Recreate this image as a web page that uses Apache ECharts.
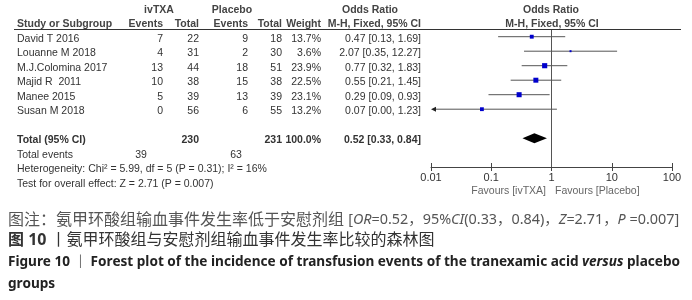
<!DOCTYPE html>
<html>
<head>
<meta charset="utf-8">
<script src="https://cdn.jsdelivr.net/npm/echarts@6/dist/echarts.min.js"></script>
<style>
  html, body { margin: 0; background: #fff; }
  #chart { width: 692px; height: 300px; }
</style>
</head>
<body>
<div id="chart"></div>
<script>
// studies in the forest plot
const studies = ['David T 2016', 'Louanne M 2018', 'M.J.Colomina 2017', 'Majid R  2011', 'Manee 2015', 'Susan M 2018'];
const ivEvents = [7, 4, 13, 10, 5, 0];
const ivTotal = [22, 31, 44, 38, 39, 56];
const plEvents = [9, 2, 18, 15, 13, 6];
const plTotal = [18, 30, 51, 38, 39, 55];
const weights = [13.7, 3.6, 23.9, 22.5, 23.1, 13.2];
const orVals = [0.47, 2.07, 0.77, 0.55, 0.29, 0.07];
const ciLow = [0.13, 0.35, 0.32, 0.21, 0.09, 0.00];
const ciHigh = [1.69, 12.27, 1.83, 1.45, 0.93, 1.23];

// pooled result: OR, low, high
const pooledOR = [0.52, 0.33, 0.84];
const totalN = [230, 231];
const totalEvents = [39, 63];
const xTicks = [0.01, 0.1, 1, 10, 100];

const X_MIN = 0.01, X_MAX = 100;
const Y_MIN = -0.462, Y_MAX = 8.986;
const ROW_TOTAL = 7;

const FONT = "'Liberation Sans', Arial, sans-serif";
const CAP_FONT = "'Noto Sans', 'Noto Sans CJK SC', sans-serif";
const TXT = '#333';
const BLUE = '#0000cc';

const chart = echarts.init(document.getElementById('chart'));

const fmt2 = v => v.toFixed(2);
const orText = (o, l, h) => `${fmt2(o)} [${fmt2(l)}, ${fmt2(h)}]`;

const option = {
  animation: false,
  grid: { left: 431, right: 20, top: 30, bottom: 133 },
  xAxis: [
    {
      type: 'log', logBase: 10, min: X_MIN, max: X_MAX,
      axisLine: { show: true, onZero: false, lineStyle: { color: '#444', width: 1 } },
      axisTick: { show: true, length: 4, lineStyle: { color: '#444' } },
      axisLabel: {
        color: TXT, fontFamily: FONT, fontSize: 11, margin: 5,
        formatter: v => String(xTicks.find(t => Math.abs(Math.log10(t) - Math.log10(v)) < 1e-6) ?? v)
      },
      splitLine: { show: false }
    },
    {
      // second copy just for the upward half of the ticks
      type: 'log', logBase: 10, min: X_MIN, max: X_MAX, position: 'bottom',
      axisLine: { show: false, onZero: false },
      axisTick: { show: true, inside: true, length: 4, lineStyle: { color: '#444' } },
      axisLabel: { show: false },
      splitLine: { show: false }
    }
  ],
  yAxis: { type: 'value', inverse: true, min: Y_MIN, max: Y_MAX, show: false },
  series: [
    {
      // line of no effect, full plot height
      type: 'custom',
      clip: false,
      data: [[1]],
      renderItem: (params, api) => {
        const top = api.coord([api.value(0), Y_MIN]);
        const bot = api.coord([api.value(0), Y_MAX]);
        return {
          type: 'line',
          shape: { x1: top[0], y1: top[1], x2: bot[0], y2: bot[1] },
          style: { stroke: '#555', lineWidth: 1 }
        };
      },
      z: 1
    },
    {
      // CI whiskers (arrow when the lower limit falls off the axis)
      type: 'custom',
      clip: false,
      data: studies.map((s, i) => [ciLow[i], ciHigh[i], i]),
      renderItem: (params, api) => {
        const lo = api.value(0), hi = api.value(1), row = api.value(2);
        const offLeft = lo < X_MIN;
        const p1 = api.coord([offLeft ? X_MIN : lo, row]);
        const p2 = api.coord([Math.min(hi, X_MAX), row]);
        const children = [{
          type: 'line',
          shape: { x1: p1[0] + (offLeft ? 3 : 0), y1: p1[1], x2: p2[0], y2: p2[1] },
          style: { stroke: '#555', lineWidth: 1 }
        }];
        if (offLeft) {
          children.push({
            type: 'polygon',
            shape: { points: [[p1[0], p1[1]], [p1[0] + 5, p1[1] - 2.5], [p1[0] + 5, p1[1] + 2.5]] },
            style: { fill: '#222' }
          });
        }
        return { type: 'group', children };
      },
      z: 2
    },
    {
      // study point estimates, box size from weight
      type: 'scatter',
      symbol: 'rect',
      data: studies.map((s, i) => [orVals[i], i, weights[i]]),
      symbolSize: d => Math.sqrt(d[2]) * 1.05,
      itemStyle: { color: BLUE, opacity: 1 },
      z: 3
    },
    {
      // pooled diamond
      type: 'custom',
      clip: false,
      data: [[pooledOR[0], pooledOR[1], pooledOR[2], ROW_TOTAL]],
      renderItem: (params, api) => {
        const row = api.value(3);
        const c = api.coord([api.value(0), row]);
        const l = api.coord([api.value(1), row]);
        const r = api.coord([api.value(2), row]);
        return {
          type: 'polygon',
          shape: { points: [[l[0], l[1]], [c[0], c[1] - 5], [r[0], r[1]], [c[0], c[1] + 5]] },
          style: { fill: '#000' }
        };
      },
      z: 3
    }
  ]
};
chart.setOption(option);

// table text, rows aligned with the plot rows
const rowY = r => chart.convertToPixel({ yAxisIndex: 0 }, r) + 2;
const g = [];
const txt = (x, y, text, align, bold, color) => {
  g.push({
    type: 'text', x, y,
    style: {
      text, fill: color || TXT, font: `${bold ? 'bold ' : ''}10.5px ${FONT}`,
      align: align || 'left', verticalAlign: 'middle'
    }
  });
};

// headers
const HEAD = '#444';
txt(159, 10, 'ivTXA', 'center', true, HEAD);
txt(232, 10, 'Placebo', 'center', true, HEAD);
txt(370, 10, 'Odds Ratio', 'center', true, HEAD);
txt(551, 10, 'Odds Ratio', 'center', true, HEAD);
txt(17, 24, 'Study or Subgroup', 'left', true, HEAD);
txt(163, 24, 'Events', 'right', true, HEAD);
txt(199, 24, 'Total', 'right', true, HEAD);
txt(248, 24, 'Events', 'right', true, HEAD);
txt(282, 24, 'Total', 'right', true, HEAD);
txt(321, 24, 'Weight', 'right', true, HEAD);
txt(421, 24, 'M-H, Fixed, 95% CI', 'right', true, HEAD);
txt(552, 24, 'M-H, Fixed, 95% CI', 'center', true, HEAD);
g.push({
  type: 'rect', shape: { x: 14, y: 29, width: 667, height: 1 },
  style: { fill: '#333' }
});

studies.forEach((s, i) => {
  const y = rowY(i);
  txt(17, y, s);
  txt(163, y, String(ivEvents[i]), 'right');
  txt(199, y, String(ivTotal[i]), 'right');
  txt(248, y, String(plEvents[i]), 'right');
  txt(282, y, String(plTotal[i]), 'right');
  txt(321, y, weights[i].toFixed(1) + '%', 'right');
  txt(421, y, orText(orVals[i], ciLow[i], ciHigh[i]), 'right');
});

const yT = rowY(ROW_TOTAL);
txt(17, yT, 'Total (95% CI)', 'left', true);
txt(199, yT, String(totalN[0]), 'right', true);
txt(282, yT, String(totalN[1]), 'right', true);
txt(321, yT, '100.0%', 'right', true);
txt(421, yT, orText(pooledOR[0], pooledOR[1], pooledOR[2]), 'right', true);

txt(17, rowY(8), 'Total events');
txt(141, rowY(8), String(totalEvents[0]), 'center');
txt(236, rowY(8), String(totalEvents[1]), 'center');
txt(17, rowY(9), 'Heterogeneity: Chi\u00b2 = 5.99, df = 5 (P = 0.31); I\u00b2 = 16%');
txt(17, rowY(10), 'Test for overall effect: Z = 2.71 (P = 0.007)');

// favours labels under the axis
txt(546, 191, 'Favours [ivTXA]', 'right', false, '#666');
txt(555, 191, 'Favours [Placebo]', 'left', false, '#666');

// figure captions
const capStyle = (size, weight, color) => ({ fontFamily: CAP_FONT, fontSize: size, fontWeight: weight, fill: color });
g.push({
  type: 'text', x: 8, y: 220,
  style: Object.assign(capStyle(16, 'normal', '#555'), {
    text: '图注：氨甲环酸组输血事件发生率低于安慰剂组 {l|[}{i|OR}{l|=0.52，95%}{i|CI}{l|(0.33，0.84)，}{i|Z}{l|=2.71，}{i|P}{l| =0.007]}',
    verticalAlign: 'middle',
    rich: {
      l: capStyle(14.4, 'normal', '#555'),
      i: Object.assign(capStyle(14.4, 'normal', '#555'), { fontStyle: 'italic' })
    }
  })
});
g.push({
  type: 'text', x: 8, y: 240,
  style: Object.assign(capStyle(16, 'normal', '#333'), {
    text: '{b|图 10} 丨氨甲环酸组与安慰剂组输血事件发生率比较的森林图',
    verticalAlign: 'middle',
    rich: { b: capStyle(16, 'bold', '#333') }
  })
});
g.push({
  type: 'text', x: 8, y: 262,
  style: Object.assign(capStyle(13.6, 'bold', '#222'), {
    text: 'Figure 10 ｜ Forest plot of the incidence of transfusion events of the tranexamic acid {i|versus} placebo',
    verticalAlign: 'middle',
    rich: { i: Object.assign(capStyle(13.6, 'bold', '#222'), { fontStyle: 'italic' }) }
  })
});
g.push({
  type: 'text', x: 8, y: 284,
  style: Object.assign(capStyle(13.6, 'bold', '#222'), { text: 'groups', verticalAlign: 'middle' })
});

chart.setOption({ graphic: g });
</script>
</body>
</html>
